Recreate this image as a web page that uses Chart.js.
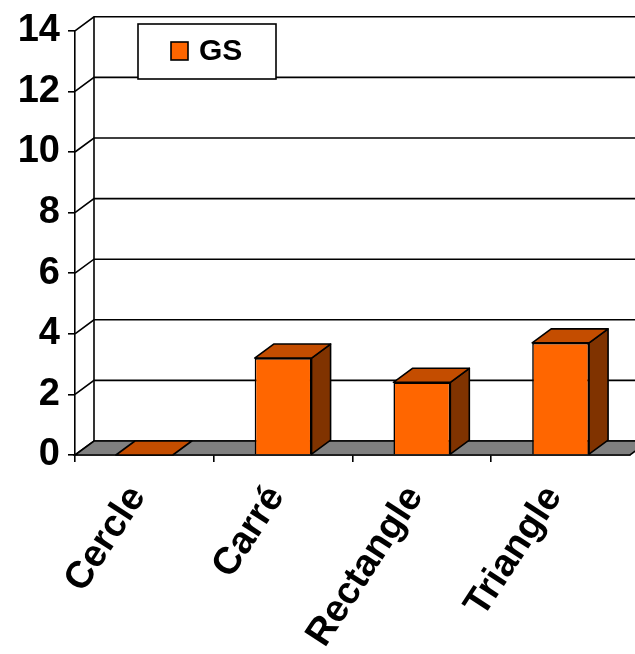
<!DOCTYPE html>
<html lang="fr">
<head>
<meta charset="UTF-8">
<title>GS</title>
<script src="https://cdn.jsdelivr.net/npm/chart.js@4.4.0/dist/chart.umd.min.js"></script>
<style>
  html, body { margin: 0; padding: 0; background: #fff; }
</style>
</head>
<body>
<canvas id="myChart" width="635" height="654"></canvas>
<script>
// data
var categories = ['Cercle', 'Carré', 'Rectangle', 'Triangle'];
var gsValues = [0, 3.2, 2.4, 3.7];
var yTicks = [0, 2, 4, 6, 8, 10, 12, 14];
var seriesName = 'GS';

// depth of the fake 3d box
var DX = 19, DY = -14;
var FRONT = '#FF6600', TOP = '#C44D00', SIDE = '#803300', FLOOR = '#808080';
var FONT = '"Liberation Sans", Arial, sans-serif';

function poly(ctx, pts, fill) {
    ctx.beginPath();
    ctx.moveTo(pts[0][0], pts[0][1]);
    for (var i = 1; i < pts.length; i++) ctx.lineTo(pts[i][0], pts[i][1]);
    ctx.closePath();
    if (fill) { ctx.fillStyle = fill; ctx.fill(); }
    ctx.stroke();
}

var box3d = {
    id: 'box3d',
    beforeDatasetsDraw: function(chart) {
        var ctx = chart.ctx, a = chart.chartArea, ys = chart.scales.y;
        ctx.save();
        ctx.strokeStyle = '#000';
        ctx.lineWidth = 1.6;
        // back wall grid + little connectors to the front axis
        yTicks.forEach(function(v) {
            var py = ys.getPixelForValue(v);
            ctx.beginPath();
            ctx.moveTo(a.left, py);
            ctx.lineTo(a.left + DX, py + DY);
            ctx.lineTo(chart.width, py + DY);
            ctx.stroke();
        });
        ctx.beginPath();
        ctx.moveTo(a.left + DX, a.bottom + DY);
        ctx.lineTo(a.left + DX, a.top + DY);
        ctx.stroke();
        // floor
        poly(ctx, [[a.left, a.bottom], [a.right, a.bottom], [a.right + DX, a.bottom + DY], [a.left + DX, a.bottom + DY]], FLOOR);
        ctx.restore();
    },
    afterDatasetsDraw: function(chart) {
        var ctx = chart.ctx;
        ctx.save();
        ctx.strokeStyle = '#000';
        ctx.lineWidth = 1.6;
        ctx.lineJoin = 'round';
        chart.getDatasetMeta(0).data.forEach(function(bar) {
            var l = bar.x - bar.width / 2, r = bar.x + bar.width / 2;
            var t = bar.y, b = bar.base;
            if (b - t > 0.5) {
                poly(ctx, [[r, t], [r + DX, t + DY], [r + DX, b + DY], [r, b]], SIDE);
            }
            poly(ctx, [[l, t], [r, t], [r + DX, t + DY], [l + DX, t + DY]], TOP);
        });
        ctx.restore();
    },
    afterDraw: function(chart) {
        // boxed legend
        var ctx = chart.ctx;
        ctx.save();
        ctx.lineWidth = 1.6;
        ctx.strokeStyle = '#000';
        ctx.fillStyle = '#fff';
        ctx.fillRect(138, 24, 138, 55);
        ctx.strokeRect(138, 24, 138, 55);
        ctx.fillStyle = FRONT;
        ctx.fillRect(171, 42, 17, 18);
        ctx.strokeRect(171, 42, 17, 18);
        ctx.fillStyle = '#000';
        ctx.font = 'bold 30px ' + FONT;
        ctx.textBaseline = 'middle';
        ctx.fillText(chart.data.datasets[0].label, 199, 52);
        ctx.restore();
    }
};

var ctx = document.getElementById('myChart').getContext('2d');
var myChart = new Chart(ctx, {
    type: 'bar',
    data: {
        labels: categories,
        datasets: [{
            label: seriesName,
            data: gsValues,
            backgroundColor: FRONT,
            borderColor: '#000',
            borderWidth: 1.6,
            categoryPercentage: 1,
            barPercentage: 0.41
        }]
    },
    options: {
        responsive: false,
        animation: false,
        devicePixelRatio: 1,
        layout: { padding: { top: 23, right: 5, left: 0, bottom: 0 } },
        plugins: { legend: { display: false }, tooltip: { enabled: false } },
        scales: {
            x: {
                grid: {
                    display: true, drawOnChartArea: false, tickLength: 7, lineWidth: 1.6,
                    // no tick mark at the far right end of the floor
                    color: function(c) { return c.index === undefined ? 'rgba(0,0,0,0)' : '#000'; }
                },
                border: { display: true, color: '#000', width: 1.6 },
                ticks: {
                    color: '#000',
                    font: { family: FONT, size: 38, weight: 'bold' },
                    minRotation: 57, maxRotation: 57,
                    autoSkip: false,
                    labelOffset: -7,
                    padding: 16
                },
                afterFit: function(scale) { scale.height = 199; }
            },
            y: {
                min: 0, max: 14,
                grid: { display: true, drawOnChartArea: false, tickLength: 7, color: '#000', lineWidth: 1.6 },
                border: { display: true, color: '#000', width: 1.6 },
                ticks: {
                    stepSize: 2,
                    color: '#000',
                    font: { family: FONT, size: 38, weight: 'bold' },
                    padding: 8
                },
                afterFit: function(scale) { scale.width = 75; }
            }
        }
    },
    plugins: [box3d]
});
</script>
</body>
</html>
